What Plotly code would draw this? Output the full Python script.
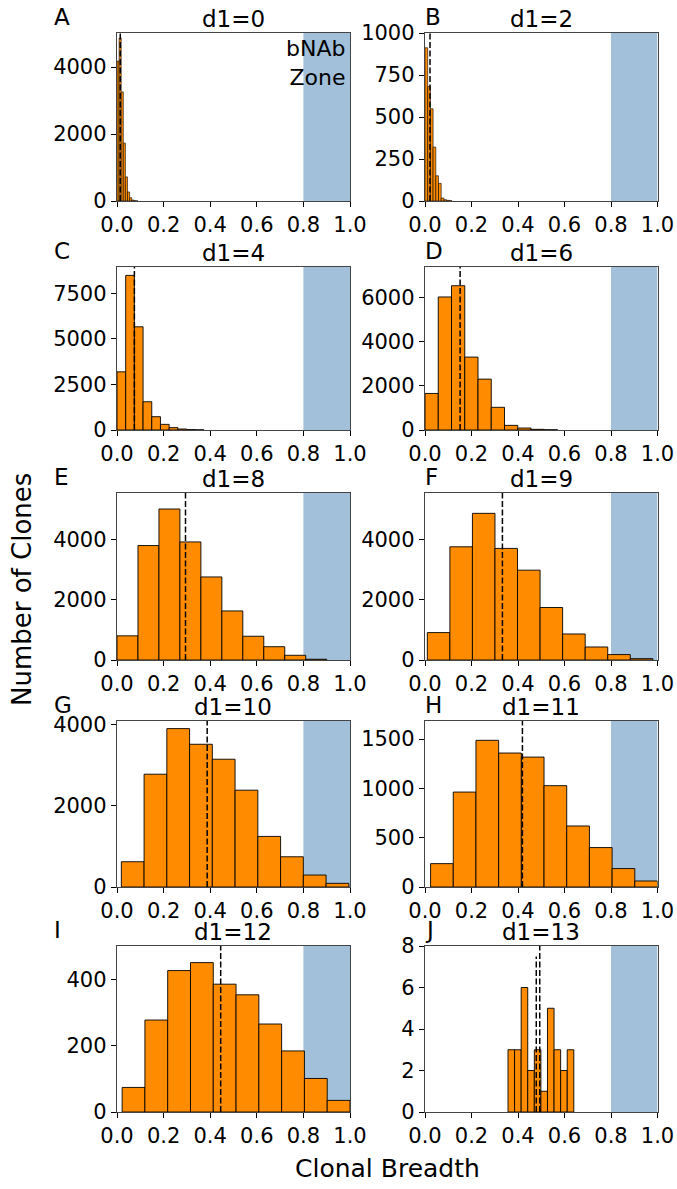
import numpy as np
import plotly.graph_objects as go

# ---------------- data ----------------
panel_letters = ["A", "B", "C", "D", "E", "F", "G", "H", "I", "J"]
d1_values = [0, 2, 4, 6, 8, 9, 10, 11, 12, 13]

counts_A = [4180, 4870, 3260, 1730, 720, 270, 100, 30, 10, 3]
counts_B = [912, 681, 549, 321, 150, 105, 18, 8, 4, 2]
counts_C = [3190, 8480, 5660, 1550, 730, 310, 130, 55, 20, 8]
counts_D = [1660, 6040, 6550, 3310, 2310, 1030, 210, 90, 30, 10]
counts_E = [800, 3790, 5000, 3910, 2750, 1625, 786, 440, 156, 25]
counts_F = [908, 3748, 4856, 3695, 2975, 1738, 862, 431, 179, 45]
counts_G = [622, 2776, 3899, 3513, 3145, 2383, 1245, 744, 295, 90]
counts_H = [237, 963, 1488, 1359, 1318, 1028, 619, 400, 187, 61]
counts_I = [74, 277, 426, 450, 385, 353, 265, 184, 101, 35]
counts_J = [3, 3, 6, 2, 3, 1, 5, 3, 2, 3]

# histogram bin ranges (min, max) of each panel
range_A = (0.0, 0.09)
range_B = (0.0, 0.116)
range_C = (0.0, 0.373)
range_D = (0.0, 0.57)
range_E = (0.0, 0.90)
range_F = (0.01, 0.98)
range_G = (0.0186, 0.995)
range_H = (0.024, 1.0)
range_I = (0.022, 1.0)
range_J = (0.357, 0.640)

# dashed reference lines (mean breadth)
mean_lines = [0.014, 0.0215, 0.0746, 0.151, 0.294, 0.333, 0.387, 0.419, 0.445, 0.4935]
extra_line_J = 0.4786
extra_line_J_height = 7.5

y_max = [5020, 1000, 8940, 7400, 5530, 5530, 4086, 1684, 500, 8]
y_ticks = [
    [0, 2000, 4000],
    [0, 250, 500, 750, 1000],
    [0, 2500, 5000, 7500],
    [0, 2000, 4000, 6000],
    [0, 2000, 4000],
    [0, 2000, 4000],
    [0, 2000, 4000],
    [0, 500, 1000, 1500],
    [0, 200, 400],
    [0, 2, 4, 6, 8],
]
x_ticks = [0.0, 0.2, 0.4, 0.6, 0.8, 1.0]
bnab_zone = (0.8, 1.0)

all_counts = [counts_A, counts_B, counts_C, counts_D, counts_E,
              counts_F, counts_G, counts_H, counts_I, counts_J]
all_ranges = [range_A, range_B, range_C, range_D, range_E,
              range_F, range_G, range_H, range_I, range_J]

# ---------------- layout geometry ----------------
W, H = 677, 1189
col_px = [(117, 350), (425, 657.5)]
row_px = [(33, 201), (267, 430), (493, 660), (721, 887), (946, 1112)]

FONT = "DejaVu Sans"
ORANGE = "#FF8C00"
ZONE = "rgba(70,130,180,0.5)"

fig = go.Figure()
shapes = []
annotations = []
layout_axes = {}

for i in range(10):
    r, c = divmod(i, 2)
    n = i + 1
    xa = "x" if n == 1 else f"x{n}"
    ya = "y" if n == 1 else f"y{n}"
    xkey = "xaxis" if n == 1 else f"xaxis{n}"
    ykey = "yaxis" if n == 1 else f"yaxis{n}"

    x0p, x1p = col_px[c]
    t, b = row_px[r]
    xdom = [x0p / W, x1p / W]
    ydom = [1 - b / H, 1 - t / H]

    counts = all_counts[i]
    lo, hi = all_ranges[i]
    edges = np.linspace(lo, hi, len(counts) + 1)
    centers = (edges[:-1] + edges[1:]) / 2
    widths = np.diff(edges)

    edge_w = 0.6 if i < 2 else 0.9
    fig.add_trace(go.Bar(
        x=centers, y=counts, width=widths,
        marker=dict(color=ORANGE, line=dict(color="black", width=edge_w)),
        xaxis=xa, yaxis=ya, showlegend=False, hoverinfo="skip",
    ))

    common = dict(
        ticks="outside", ticklen=5, tickwidth=1, tickcolor="black",
        showline=True, linecolor="#444", linewidth=1.2, mirror=True,
        showgrid=False, zeroline=False, automargin=False,
        tickfont=dict(family=FONT, size=21, color="black"),
    )
    layout_axes[xkey] = dict(
        domain=xdom, anchor=ya, range=[0, 1],
        tickvals=x_ticks, ticktext=[f"{v:.1f}" for v in x_ticks],
        **common,
    )
    layout_axes[ykey] = dict(
        domain=ydom, anchor=xa, range=[0, y_max[i]],
        tickvals=y_ticks[i], ticktext=[str(v) for v in y_ticks[i]],
        **common,
    )

    # bNAb zone
    shapes.append(dict(
        type="rect", xref=xa, yref=f"{ya} domain",
        x0=bnab_zone[0], x1=bnab_zone[1], y0=0, y1=1,
        fillcolor=ZONE, line=dict(width=0), layer="below",
    ))
    # dashed mean line
    shapes.append(dict(
        type="line", xref=xa, yref=f"{ya} domain",
        x0=mean_lines[i], x1=mean_lines[i], y0=0, y1=1,
        line=dict(color="black", width=1.5, dash="6px,2.5px"), layer="above",
    ))
    if i == 9:
        shapes.append(dict(
            type="line", xref=xa, yref=ya,
            x0=extra_line_J, x1=extra_line_J, y0=0, y1=extra_line_J_height,
            line=dict(color="black", width=1.5, dash="6px,2.5px"), layer="above",
        ))

    # title
    annotations.append(dict(
        text=f"d1={d1_values[i]}", xref="paper", yref="paper",
        x=(x0p + x1p) / 2 / W, y=1 - (t - 14) / H,
        xanchor="center", yanchor="middle", showarrow=False,
        font=dict(family=FONT, size=23, color="black"),
    ))
    # panel letter
    lx = 52 if c == 0 else 423
    annotations.append(dict(
        text=panel_letters[i], xref="paper", yref="paper",
        x=lx / W, y=1 - (t - 16) / H,
        xanchor="left", yanchor="middle", showarrow=False,
        font=dict(family=FONT, size=23, color="black"),
    ))

# bNAb Zone label in panel A
annotations.append(dict(
    text="bNAb<br>Zone", xref="paper", yref="paper",
    x=347 / W, y=1 - 34 / H, xanchor="right", yanchor="top", align="right",
    showarrow=False, font=dict(family=FONT, size=22, color="black"),
))
# axis labels
annotations.append(dict(
    text="Clonal Breadth", xref="paper", yref="paper",
    x=387 / W, y=1 - 1168 / H, xanchor="center", yanchor="middle",
    showarrow=False, font=dict(family=FONT, size=25, color="black"),
))
annotations.append(dict(
    text="Number of Clones", xref="paper", yref="paper",
    x=22 / W, y=1 - 590 / H, xanchor="center", yanchor="middle", textangle=-90,
    showarrow=False, font=dict(family=FONT, size=26, color="black"),
))

fig.update_layout(
    width=W, height=H,
    margin=dict(l=0, r=0, t=0, b=0, autoexpand=False),
    paper_bgcolor="white", plot_bgcolor="white",
    shapes=shapes, annotations=annotations,
    bargap=0, barmode="overlay",
    **layout_axes,
)

fig.write_html(
    "out.html",
    config={"displayModeBar": False, "staticPlot": True},
    post_script="document.body.style.margin='0';document.body.style.overflow='hidden';",
)
